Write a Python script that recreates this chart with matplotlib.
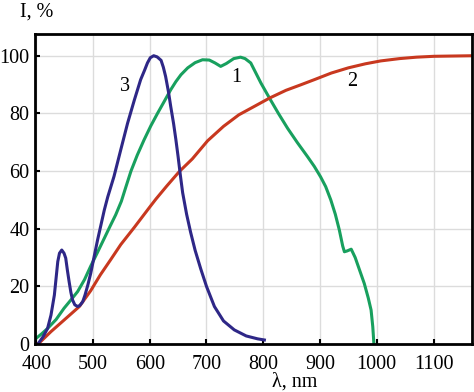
import matplotlib
matplotlib.use('Agg')
import matplotlib.pyplot as plt

plt.rcParams['font.family'] = ['Liberation Serif', 'DejaVu Serif']

# Curve 1 (green)
wl_1 = [400, 410, 420, 435, 449, 462, 473, 485, 496, 508, 520, 530, 540, 550, 558,
        567, 578, 590, 602, 614, 626, 637, 646, 655, 667, 680, 693,
        705, 715, 725, 735, 748, 760, 768, 778, 787, 796, 811, 827, 843, 860, 878,
        890, 901, 910, 919, 927, 934, 940, 943, 948, 955, 962, 970, 978, 985, 990,
        993, 995]
val_1 = [2, 3.6, 5.4, 8.5, 12.4, 15.5, 18.2, 22.3, 27, 31.8, 36.7, 40.8, 44.8, 49.5, 54.5,
         60, 65.5, 70.8, 75.7, 80.1, 84.3, 88.2, 91, 93.4, 95.8, 97.6, 98.6,
         98.5, 97.5, 96.3, 97.3, 99, 99.5, 99, 97.5, 94, 90.5, 85.3, 79.9, 74.8, 69.9, 65,
         61.6, 58, 54.6, 50, 45, 39.6, 34, 32, 32.3, 32.9, 30, 25.5, 21, 16, 11.8,
         6, 0]

# Curve 2 (red)
wl_2 = [400, 405, 426, 449, 476, 496, 513, 531, 549, 573, 600, 611, 630, 652, 675,
        702, 730, 757, 785, 811, 840, 866, 890, 920, 950, 980, 1007, 1040, 1070,
        1101, 1170]
val_2 = [0, 0.3, 4.3, 8.3, 13, 18.5, 24, 29.2, 34.5, 40.5, 47.5, 50.3, 54.8, 59.8, 64.2,
         70.5, 75.5, 79.5, 82.5, 85.3, 88, 89.9, 91.7, 94, 95.8, 97.2, 98.2, 99, 99.5,
         99.8, 100]

# Curve 3 (blue)
wl_3 = [403, 412, 420, 426, 432, 438, 441, 445, 449, 452, 455, 458, 461, 464, 468,
        473, 477, 482, 486, 491, 496, 508, 520, 526, 537, 549, 561, 573, 584, 591,
        596, 601, 607, 613, 620, 624, 628, 633, 637, 642, 646, 650, 654, 658, 665,
        672, 680, 690, 700, 714, 730, 749, 770, 790, 802]
val_3 = [0, 2.5, 5.4, 10, 17, 28.6, 31.5, 32.6, 31.5, 29.8, 25.5, 21.6, 18, 15.3, 13.6,
         13, 13.4, 14.7, 17, 20.5, 24.5, 36, 46.5, 51, 58.1, 67.4, 76.6, 84.7, 91.7, 95,
         97.5, 99.3, 100, 99.6, 98.4, 96, 92.8, 87.5, 82.4, 76.5, 71, 65, 58.5, 52.5, 45,
         38.8, 32.5, 26, 20, 13, 8, 4.9, 2.8, 1.8, 1.4]

x_ticks = [400, 500, 600, 700, 800, 900, 1000, 1100]
y_ticks = [0, 20, 40, 60, 80, 100]

fig = plt.figure(figsize=(4.74, 3.92), dpi=100)
ax = fig.add_axes([0.074, 0.1224, 0.922, 0.7906])

ax.plot(wl_1, val_1, color='#18a05e', lw=2.2, solid_joinstyle='round')
ax.plot(wl_2, val_2, color='#c8381f', lw=2.2, solid_joinstyle='round')
ax.plot(wl_3, val_3, color='#2e2787', lw=2.2, solid_joinstyle='round')

ax.text(556, 89.3, '3', fontsize=14.5, ha='center', va='center')
ax.text(752, 92.3, '1', fontsize=14.5, ha='center', va='center')
ax.text(957, 91.1, '2', fontsize=14.5, ha='center', va='center')

ax.set_xlim(398, 1168)
ax.set_ylim(0, 107.5)
ax.set_xticks(x_ticks)
ax.set_yticks(y_ticks)
ax.tick_params(direction='in', length=3.5, width=1.5, labelsize=14.5)
ax.tick_params(axis='x', pad=8)
ax.tick_params(axis='y', pad=4)
ax.grid(True, color='#dcdcdc', lw=1)
ax.set_axisbelow(True)
for s in ax.spines.values():
    s.set_linewidth(2)

fig.text(0.042, 0.97, 'I, %', fontsize=14.5, ha='left', va='center')
fig.text(0.622, 0.025, 'λ, nm', fontsize=14.5, ha='center', va='center')

fig.savefig('out.png', dpi=100)
